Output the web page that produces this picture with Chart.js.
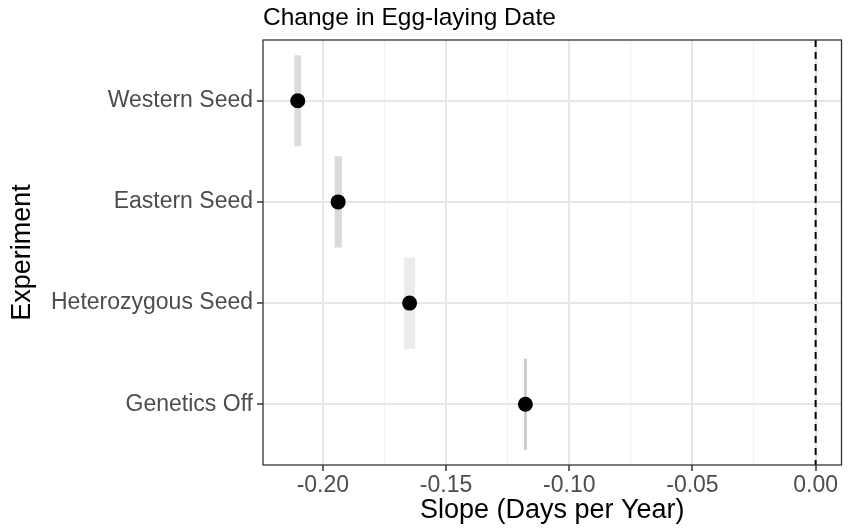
<!DOCTYPE html>
<html>
<head>
<meta charset="utf-8">
<script src="https://cdn.jsdelivr.net/npm/chart.js@4/dist/chart.umd.min.js"></script>
<style>
  html, body { margin: 0; padding: 0; background: #ffffff; }
  #wrap { width: 849px; height: 529px; position: relative; }
</style>
</head>
<body>
<div id="wrap"><canvas id="chart" width="849" height="529"></canvas></div>
<script>
// Experiments, top to bottom
const experiments = ['Western Seed', 'Eastern Seed', 'Heterozygous Seed', 'Genetics Off'];
// Estimated slope of egg-laying date (days per year)
const slopes = [-0.2102, -0.1938, -0.1648, -0.1178];
// Interval around each slope
const lower = [-0.2116, -0.1952, -0.1670, -0.1184];
const upper = [-0.2088, -0.1923, -0.1626, -0.1172];
// Reference slope of zero
const referenceSlope = 0;
// Axis range and tick spacing
const slopeRange = [-0.2243, 0.0105];
const majorStep = 0.05;

const bandShades = ['#dcdcdc', '#d9d9d9', '#ececec', '#cbcbcb'];
const FONT = "'Liberation Sans', Arial, Helvetica, sans-serif";

// row position of each experiment (1 = top)
const rowOf = i => i + 1;

const bands = experiments.map((e, i) => ({ y: rowOf(i), x: [lower[i], upper[i]] }));
const points = experiments.map((e, i) => ({ x: slopes[i], y: rowOf(i) }));
const refLine = [
  { x: referenceSlope, y: 0.4 },
  { x: referenceSlope, y: experiments.length + 0.6 }
];

const isMajor = v => Math.abs(Math.round(v / majorStep) * majorStep - v) < 1e-9;

const panelPlugin = {
  id: 'panel',
  afterDraw(chart) {
    const { ctx, chartArea: a } = chart;
    ctx.save();
    ctx.strokeStyle = '#333333';
    ctx.lineWidth = 1.3;
    ctx.strokeRect(a.left, a.top, a.right - a.left, a.bottom - a.top);
    // plot title, aligned with the panel
    ctx.fillStyle = '#000000';
    ctx.font = '24.5px ' + FONT;
    ctx.textBaseline = 'alphabetic';
    ctx.textAlign = 'left';
    ctx.fillText('Change in Egg-laying Date', a.left, 25);
    ctx.restore();
  }
};

new Chart(document.getElementById('chart'), {
  type: 'scatter',
  data: {
    datasets: [
      {
        type: 'bar',
        indexAxis: 'y',
        data: bands,
        backgroundColor: bandShades,
        borderWidth: 0,
        barPercentage: 0.9,
        categoryPercentage: 1,
        order: 3
      },
      {
        type: 'scatter',
        data: points,
        pointRadius: 7.5,
        pointHoverRadius: 7.5,
        backgroundColor: '#000000',
        borderWidth: 0,
        order: 2
      },
      {
        type: 'line',
        data: refLine,
        borderColor: '#000000',
        borderWidth: 2,
        borderDash: [7, 5],
        pointRadius: 0,
        fill: false,
        order: 1
      }
    ]
  },
  options: {
    responsive: false,
    animation: false,
    devicePixelRatio: 1,
    layout: { padding: { left: 0, right: 6, top: 40, bottom: 0 } },
    plugins: {
      legend: { display: false },
      tooltip: { enabled: false },
      title: { display: false }
    },
    scales: {
      x: {
        type: 'linear',
        position: 'bottom',
        offset: false,
        min: slopeRange[0],
        max: slopeRange[1],
        ticks: {
          stepSize: majorStep / 2,
          includeBounds: false,
          autoSkip: false,
          maxRotation: 0,
          padding: 1,
          color: '#4d4d4d',
          font: { family: FONT, size: 23 },
          callback: v => isMajor(v) ? (Math.abs(v) < 1e-9 ? '0.00' : v.toFixed(2)) : ''
        },
        grid: {
          offset: false,
          drawOnChartArea: true,
          color: c => isMajor(c.tick.value) ? '#e6e6e6' : '#f2f2f2',
          lineWidth: c => isMajor(c.tick.value) ? 2 : 1.2,
          tickColor: c => isMajor(c.tick.value) ? '#333333' : 'rgba(0,0,0,0)',
          tickLength: 6,
          tickWidth: 1.5
        },
        border: { display: false },
        title: {
          display: true,
          text: 'Slope (Days per Year)',
          color: '#000000',
          font: { family: FONT, size: 27 },
          padding: { top: 0, bottom: 2 }
        },
        afterFit(scale) { scale.height = 64; }
      },
      y: {
        type: 'linear',
        reverse: true,
        offset: false,
        min: 0.4,
        max: experiments.length + 0.6,
        ticks: {
          stepSize: 1,
          includeBounds: false,
          autoSkip: false,
          padding: 4,
          color: '#4d4d4d',
          font: { family: FONT, size: 23 },
          callback: v => experiments[v - 1] || ''
        },
        grid: {
          offset: false,
          color: '#e6e6e6',
          lineWidth: 2,
          tickColor: '#333333',
          tickLength: 6,
          tickWidth: 1.5
        },
        border: { display: false },
        title: {
          display: true,
          text: 'Experiment',
          color: '#000000',
          font: { family: FONT, size: 27 },
          padding: { top: 6, bottom: 0 }
        },
        afterFit(scale) { scale.width = 263; }
      }
    }
  },
  plugins: [panelPlugin]
});
</script>
</body>
</html>
